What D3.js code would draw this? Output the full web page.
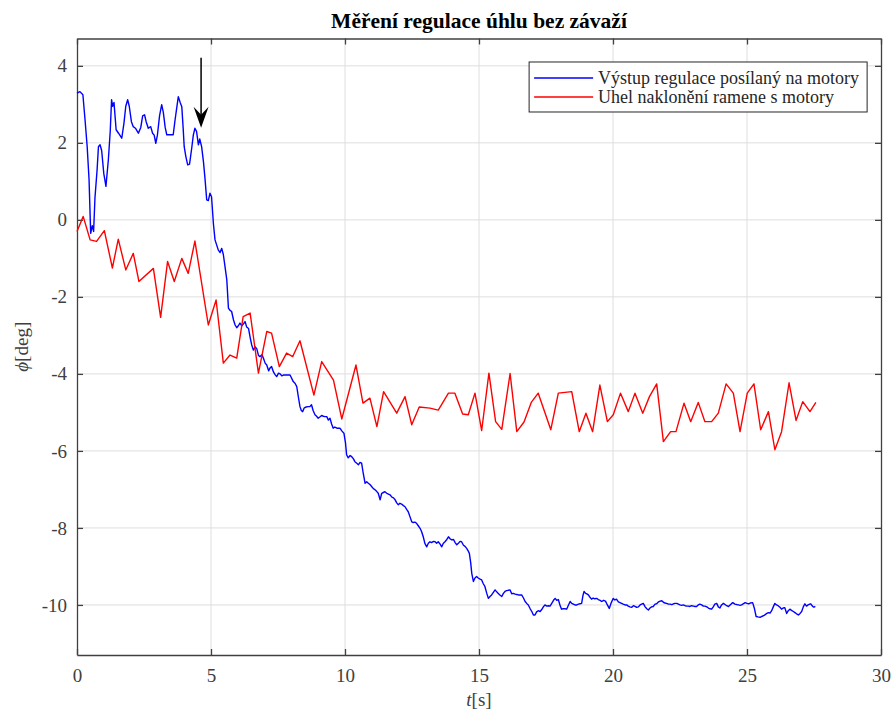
<!DOCTYPE html>
<html>
<head>
<meta charset="utf-8">
<script src="https://cdn.jsdelivr.net/npm/d3@7"></script>
<style>
  body { margin: 0; background: #fff; }
  svg { font-family: 'Liberation Serif', 'Times New Roman', serif; }
</style>
</head>
<body>
<div id="chart"></div>
<script>
// time [s] / value [deg]
const blueT = [0.00,0.11,0.22,0.30,0.38,0.45,0.51,0.57,0.62,0.67,0.75,0.80,0.86,0.92,1.00,1.04,1.08,1.17,1.24,1.29,1.33,1.38,1.46,1.55,1.67,1.75,1.82,1.89,1.95,2.03,2.10,2.18,2.29,2.38,2.45,2.52,2.58,2.66,2.75,2.82,2.88,2.94,3.00,3.08,3.16,3.22,3.29,3.35,3.45,3.59,3.66,3.72,3.78,3.85,3.91,3.96,4.00,4.06,4.13,4.20,4.28,4.34,4.40,4.46,4.53,4.58,4.65,4.72,4.78,4.84,4.90,4.96,5.02,5.09,5.15,5.21,5.27,5.34,5.40,5.46,5.52,5.59,5.65,5.71,5.77,5.84,5.90,5.96,6.02,6.08,6.15,6.21,6.27,6.33,6.40,6.46,6.52,6.58,6.65,6.71,6.77,6.83,6.90,6.96,7.02,7.08,7.15,7.20,7.26,7.33,7.39,7.45,7.52,7.58,7.64,7.70,7.80,7.95,8.07,8.14,8.20,8.26,8.32,8.37,8.42,8.48,8.55,8.62,8.69,8.75,8.81,8.88,8.94,9.00,9.06,9.13,9.19,9.25,9.32,9.38,9.44,9.50,9.56,9.62,9.70,9.81,9.88,9.96,10.02,10.06,10.12,10.19,10.25,10.31,10.37,10.44,10.50,10.56,10.62,10.68,10.75,10.81,10.87,10.94,11.00,11.06,11.12,11.18,11.24,11.31,11.37,11.43,11.49,11.56,11.62,11.68,11.75,11.81,11.87,11.93,11.99,12.05,12.11,12.18,12.24,12.30,12.36,12.42,12.49,12.55,12.61,12.67,12.74,12.80,12.86,12.92,12.98,13.05,13.11,13.17,13.23,13.30,13.36,13.42,13.48,13.55,13.61,13.67,13.73,13.80,13.86,13.92,13.98,14.05,14.11,14.17,14.23,14.29,14.35,14.42,14.48,14.54,14.60,14.64,14.69,14.73,14.79,14.85,14.91,14.97,15.04,15.10,15.16,15.22,15.29,15.35,15.41,15.47,15.53,15.60,15.66,15.72,15.78,15.85,15.91,15.97,16.03,16.09,16.16,16.22,16.28,16.35,16.41,16.47,16.53,16.59,16.66,16.72,16.78,16.84,16.91,16.97,17.03,17.09,17.15,17.21,17.28,17.34,17.40,17.46,17.53,17.59,17.65,17.72,17.78,17.84,17.90,17.96,18.02,18.08,18.14,18.21,18.27,18.34,18.40,18.46,18.52,18.58,18.65,18.71,18.77,18.83,18.88,18.92,18.98,19.04,19.08,19.14,19.20,19.26,19.32,19.39,19.45,19.52,19.58,19.65,19.72,19.79,19.86,19.93,20.01,20.07,20.13,20.20,20.26,20.32,20.38,20.45,20.51,20.57,20.63,20.70,20.76,20.82,20.88,20.95,21.01,21.07,21.13,21.20,21.26,21.32,21.38,21.44,21.50,21.57,21.63,21.70,21.76,21.82,21.88,21.94,22.00,22.07,22.13,22.19,22.26,22.32,22.38,22.44,22.50,22.56,22.62,22.69,22.75,22.81,22.87,22.93,23.00,23.06,23.12,23.18,23.24,23.31,23.37,23.43,23.50,23.56,23.62,23.68,23.74,23.80,23.87,23.93,23.99,24.05,24.12,24.18,24.24,24.31,24.37,24.43,24.47,24.55,24.62,24.68,24.74,24.80,24.86,24.93,25.00,25.06,25.12,25.21,25.28,25.34,25.41,25.49,25.55,25.62,25.68,25.74,25.80,25.86,25.92,25.98,26.04,26.10,26.16,26.23,26.29,26.35,26.41,26.48,26.54,26.60,26.66,26.73,26.79,26.85,26.92,26.98,27.04,27.10,27.16,27.22,27.28,27.34,27.38,27.44,27.50,27.55];
const blueV = [3.29,3.33,3.25,2.60,1.90,1.04,-0.35,-0.15,-0.30,0.57,1.30,1.90,1.95,1.80,1.20,1.04,0.87,1.56,2.30,3.12,2.95,3.05,2.34,2.25,2.12,2.50,2.95,3.12,2.95,2.55,2.42,2.38,2.25,2.40,2.70,2.73,2.55,2.38,2.42,2.25,2.20,1.99,2.20,2.70,2.99,2.80,2.40,2.21,2.21,2.21,2.60,2.90,3.20,3.05,2.94,2.40,1.90,1.65,1.43,1.45,1.86,2.20,2.38,2.30,1.95,2.10,1.90,1.50,1.04,0.52,0.50,0.69,0.60,-0.10,-0.52,-0.65,-0.78,-0.85,-0.74,-0.90,-1.20,-1.56,-2.29,-2.35,-2.38,-2.60,-2.73,-2.80,-2.75,-2.68,-2.75,-2.70,-2.64,-2.78,-2.82,-3.05,-3.25,-3.38,-3.30,-3.35,-3.52,-3.55,-3.50,-3.60,-3.72,-3.77,-3.92,-3.85,-3.81,-3.95,-4.02,-4.07,-3.98,-4.00,-4.05,-4.03,-4.03,-4.03,-4.20,-4.25,-4.33,-4.60,-4.85,-4.95,-4.98,-4.88,-4.86,-4.85,-4.85,-4.80,-4.95,-5.06,-5.10,-5.15,-5.12,-5.08,-5.10,-5.11,-5.11,-5.20,-5.15,-5.30,-5.41,-5.38,-5.41,-5.41,-5.48,-5.54,-5.80,-6.10,-6.18,-6.12,-6.15,-6.20,-6.28,-6.32,-6.36,-6.30,-6.32,-6.58,-6.84,-6.80,-6.84,-6.88,-6.93,-6.98,-7.01,-7.05,-7.10,-7.27,-7.10,-7.08,-7.06,-7.10,-7.12,-7.14,-7.20,-7.22,-7.27,-7.35,-7.40,-7.36,-7.38,-7.42,-7.45,-7.52,-7.58,-7.70,-7.84,-7.86,-7.85,-7.88,-7.95,-8.01,-8.10,-8.23,-8.40,-8.49,-8.40,-8.36,-8.38,-8.35,-8.36,-8.40,-8.36,-8.42,-8.49,-8.40,-8.36,-8.30,-8.23,-8.28,-8.31,-8.30,-8.38,-8.44,-8.40,-8.35,-8.36,-8.45,-8.48,-8.53,-8.60,-8.66,-8.90,-9.18,-9.39,-9.30,-9.26,-9.30,-9.33,-9.35,-9.45,-9.52,-9.70,-9.83,-9.78,-9.74,-9.68,-9.61,-9.66,-9.70,-9.74,-9.78,-9.70,-9.65,-9.63,-9.62,-9.61,-9.71,-9.70,-9.72,-9.73,-9.74,-9.74,-9.74,-9.82,-9.91,-9.96,-10.00,-10.10,-10.17,-10.26,-10.26,-10.18,-10.15,-10.17,-10.12,-10.05,-10.00,-10.03,-10.02,-10.03,-9.95,-9.88,-9.83,-9.88,-9.86,-10.00,-10.11,-10.10,-10.10,-10.11,-10.00,-9.91,-9.96,-9.98,-10.00,-10.00,-9.98,-9.97,-9.96,-9.75,-9.65,-9.70,-9.72,-9.74,-9.80,-9.85,-9.82,-9.84,-9.83,-9.86,-9.88,-9.91,-9.88,-9.90,-10.00,-10.09,-9.95,-9.83,-9.87,-9.85,-9.92,-9.94,-9.96,-9.98,-10.00,-10.00,-10.03,-10.05,-10.06,-10.02,-10.04,-10.06,-10.05,-10.00,-9.98,-9.96,-10.05,-10.10,-10.13,-10.08,-10.05,-10.04,-9.98,-9.97,-9.92,-9.90,-9.89,-9.93,-9.95,-9.96,-9.98,-9.98,-9.99,-9.97,-9.96,-9.96,-9.98,-10.00,-10.01,-10.00,-10.02,-10.03,-10.03,-10.04,-10.02,-10.03,-10.04,-10.04,-10.00,-9.98,-10.00,-10.03,-10.03,-10.05,-10.08,-10.10,-10.11,-10.05,-9.98,-9.96,-10.05,-10.08,-10.00,-9.96,-9.99,-10.02,-10.04,-10.00,-9.96,-9.94,-9.98,-9.99,-10.00,-10.01,-10.00,-9.97,-9.94,-9.96,-9.97,-9.95,-9.94,-10.10,-10.30,-10.31,-10.32,-10.30,-10.28,-10.25,-10.22,-10.20,-10.21,-10.15,-10.05,-9.96,-10.00,-10.02,-10.06,-10.11,-10.08,-10.07,-10.22,-10.15,-10.11,-10.14,-10.17,-10.20,-10.23,-10.26,-10.22,-10.17,-10.05,-9.97,-10.03,-10.00,-9.98,-9.97,-10.03,-10.06,-10.04];

const redT = [0.00,0.23,0.49,0.73,1.02,1.32,1.54,1.82,2.10,2.31,2.85,3.12,3.38,3.63,3.91,4.15,4.40,4.90,5.19,5.46,5.71,5.96,6.20,6.46,6.77,7.08,7.26,7.55,7.82,8.05,8.32,8.84,9.13,9.57,9.88,10.41,10.67,10.93,11.19,11.44,11.93,12.24,12.49,12.77,13.17,13.48,13.86,14.10,14.39,14.60,14.85,15.10,15.37,15.62,15.85,16.16,16.41,16.68,16.95,17.21,17.68,17.96,18.46,18.74,18.99,19.24,19.51,19.79,20.01,20.28,20.57,20.82,21.11,21.36,21.63,21.88,22.15,22.35,22.65,22.90,23.18,23.43,23.68,23.93,24.22,24.49,24.74,25.01,25.26,25.51,25.80,26.04,26.29,26.57,26.83,27.08,27.35,27.57];
const redV = [-0.30,0.09,-0.52,-0.56,-0.28,-1.25,-0.50,-1.30,-0.87,-1.60,-1.26,-2.53,-1.08,-1.60,-1.00,-1.39,-0.55,-2.73,-2.08,-3.72,-3.51,-3.59,-2.51,-2.42,-3.98,-2.90,-2.94,-3.81,-3.46,-3.55,-3.14,-4.55,-3.68,-4.16,-5.17,-3.77,-4.76,-4.63,-5.37,-4.46,-5.02,-4.59,-5.32,-4.86,-4.89,-4.94,-4.50,-4.50,-5.04,-5.06,-4.50,-5.47,-3.98,-5.24,-5.44,-3.99,-5.50,-5.25,-4.74,-4.50,-5.45,-4.50,-4.46,-5.50,-5.02,-5.50,-4.29,-5.24,-5.06,-4.50,-4.98,-4.50,-5.02,-4.59,-4.26,-5.76,-5.50,-5.50,-4.76,-5.24,-4.74,-5.24,-5.24,-5.02,-4.26,-4.50,-5.50,-4.50,-4.26,-5.45,-4.98,-5.97,-5.50,-4.23,-5.21,-4.72,-4.98,-4.74];

const seriesNames = ['Výstup regulace posílaný na motory', 'Uhel naklonění ramene s motory'];
const seriesColors = ['#0000ff', '#ff0000'];
const xTicks = [0, 5, 10, 15, 20, 25, 30];
const yTicks = [-10, -8, -6, -4, -2, 0, 2, 4];
// arrow marking the moment regulation switched on: [t, from, to]
const arrowAt = [4.63, 4.21, 2.39];

const W = 893, H = 713;
const margin = { top: 38.5, right: 12, bottom: 58, left: 77 };
const width = W - margin.left - margin.right;
const height = H - margin.top - margin.bottom;
const axisColor = '#404040';

const svg = d3.select('#chart').append('svg')
  .attr('width', W)
  .attr('height', H);

const g = svg.append('g')
  .attr('transform', `translate(${margin.left},${margin.top})`);

const x = d3.scaleLinear().domain([0, 30]).range([0, width]);
const y = d3.scaleLinear().domain([-11.3, 4.71]).range([height, 0]);

// grid
g.append('g').selectAll('line.gx')
  .data(xTicks.slice(1, -1))
  .enter().append('line')
  .attr('x1', d => x(d)).attr('x2', d => x(d))
  .attr('y1', 0).attr('y2', height)
  .attr('stroke', '#dedede').attr('stroke-width', 1);
g.append('g').selectAll('line.gy')
  .data(yTicks)
  .enter().append('line')
  .attr('x1', 0).attr('x2', width)
  .attr('y1', d => y(d)).attr('y2', d => y(d))
  .attr('stroke', '#dedede').attr('stroke-width', 1);

// axes (ticks inside, box on all sides)
const tickLen = 6;
const styleAxis = sel => {
  sel.select('.domain').attr('stroke', axisColor).attr('stroke-width', 1.3);
  sel.selectAll('.tick line').attr('stroke', axisColor).attr('stroke-width', 1.3);
  sel.selectAll('.tick text').attr('fill', axisColor).style('font-size', '19px')
    .style('font-family', "'Liberation Serif', serif");
};

g.append('g')
  .attr('transform', `translate(0,${height})`)
  .call(d3.axisBottom(x).tickValues(xTicks).tickFormat(d => String(d))
    .tickSizeInner(-tickLen).tickSizeOuter(0).tickPadding(14))
  .call(styleAxis);
g.append('g')
  .call(d3.axisTop(x).tickValues(xTicks).tickSizeInner(-tickLen).tickSizeOuter(0).tickFormat(''))
  .call(styleAxis);
g.append('g')
  .call(d3.axisLeft(y).tickValues(yTicks).tickFormat(d => String(d))
    .tickSizeInner(-tickLen).tickSizeOuter(0).tickPadding(10))
  .call(styleAxis);
g.append('g')
  .attr('transform', `translate(${width},0)`)
  .call(d3.axisRight(y).tickValues(yTicks).tickSizeInner(-tickLen).tickSizeOuter(0).tickFormat(''))
  .call(styleAxis);

// lines
const line = d3.line().x(d => x(d[0])).y(d => y(d[1]));
const series = [d3.zip(blueT, blueV), d3.zip(redT, redV)];
g.append('g').selectAll('path.series')
  .data(series)
  .enter().append('path')
  .attr('d', line)
  .attr('fill', 'none')
  .attr('stroke', (d, i) => seriesColors[i])
  .attr('stroke-width', 1.4)
  .attr('stroke-linejoin', 'round');

// arrow annotation
const ax = x(arrowAt[0]), ay0 = y(arrowAt[1]), ay1 = y(arrowAt[2]);
g.append('line')
  .attr('x1', ax).attr('x2', ax)
  .attr('y1', ay0).attr('y2', ay1 - 12)
  .attr('stroke', '#000').attr('stroke-width', 1.5);
g.append('path')
  .attr('d', `M${ax},${ay1} L${ax - 7.5},${ay1 - 21} L${ax},${ay1 - 13} L${ax + 7.5},${ay1 - 21} Z`)
  .attr('fill', '#000');

// legend
const lg = g.append('g').attr('transform', `translate(${x(16.87)},${y(4.1)})`);
lg.append('rect')
  .attr('width', 338).attr('height', 50)
  .attr('fill', '#fff').attr('stroke', '#262626').attr('stroke-width', 1);
seriesNames.forEach((name, i) => {
  const ry = 16 + i * 19;
  lg.append('line')
    .attr('x1', 5).attr('x2', 64).attr('y1', ry).attr('y2', ry)
    .attr('stroke', seriesColors[i]).attr('stroke-width', 1.4);
  lg.append('text')
    .attr('x', 69).attr('y', ry).attr('dy', '0.35em')
    .style('font-size', '18px').attr('fill', '#262626')
    .text(name);
});

// title and labels
svg.append('text')
  .attr('x', margin.left + width / 2).attr('y', 28)
  .attr('text-anchor', 'middle')
  .style('font-size', '21.5px').style('font-weight', 'bold')
  .text('Měření regulace úhlu bez závaží');

const xl = svg.append('text')
  .attr('x', margin.left + width / 2).attr('y', 706)
  .attr('text-anchor', 'middle')
  .style('font-size', '19px').attr('fill', axisColor);
xl.append('tspan').style('font-style', 'italic').text('t');
xl.append('tspan').text('[s]');

const yl = svg.append('text')
  .attr('transform', `translate(28,${margin.top + height / 2}) rotate(-90)`)
  .attr('text-anchor', 'middle')
  .style('font-size', '19px').attr('fill', axisColor);
yl.append('tspan').style('font-style', 'italic').text('ϕ');
yl.append('tspan').text('[deg]');
</script>
</body>
</html>
